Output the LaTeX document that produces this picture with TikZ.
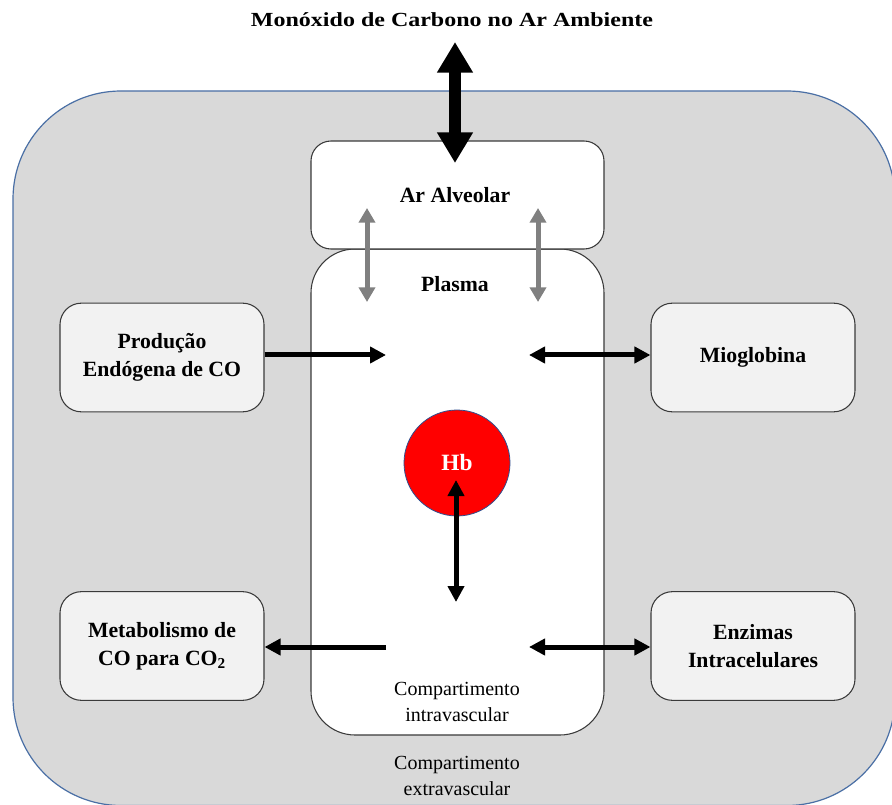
\documentclass[tikz,border=0pt]{standalone}
\usepackage{fontspec}
\setmainfont{Liberation Serif}
\newfontfamily\titlefont[FakeStretch=1.2]{Liberation Serif}
\usetikzlibrary{arrows.meta}
\definecolor{outerfill}{HTML}{D9D9D9}
\definecolor{outerline}{HTML}{4A6FA5}
\definecolor{sidefill}{HTML}{F2F2F2}
\definecolor{boxline}{HTML}{3A3A3A}
\definecolor{hbline}{HTML}{2F4F8F}
\definecolor{arrgray}{HTML}{808080}
\tikzset{
  txt/.style={font=\fontsize{16.3}{21}\selectfont\bfseries, align=center, inner sep=0pt},
  plain/.style={font=\fontsize{15}{19}\selectfont, align=center, inner sep=0pt},
  sidebox/.style={draw=boxline, line width=0.8pt, fill=sidefill, rounded corners=16pt,
     minimum width=153pt, minimum height=81.5pt, inner sep=0pt, align=center,
     font=\fontsize{16.3}{21}\selectfont\bfseries},
  whitebox/.style={draw=boxline, line width=0.8pt, fill=white, inner sep=0pt},
  blackarr/.style={draw=black, line width=3.75pt, -{Triangle[length=12pt,width=12pt]}},
  blackdbl/.style={draw=black, line width=3.75pt, {Triangle[length=12pt,width=12pt]}-{Triangle[length=12pt,width=12pt]}},
  graydbl/.style={draw=arrgray, line width=3.75pt, {Triangle[length=11pt,width=12pt]}-{Triangle[length=11pt,width=12pt]}},
  bigdbl/.style={draw=black, line width=9pt, {Triangle[length=23pt,width=25.5pt]}-{Triangle[length=23pt,width=25.5pt]}},
}
\begin{document}
\begin{tikzpicture}[x=0.75pt,y=-0.75pt]
\useasboundingbox (0,0) rectangle (892,805);
\clip (0,0) rectangle (892,805);
% outer compartment
\draw[fill=outerfill, draw=outerline, line width=0.9pt, rounded corners=81pt]
  (13,91) rectangle (895,805.5);
% title
\node[inner sep=0pt, font=\titlefont\fontsize{15}{18}\selectfont\bfseries] (title) at (452,20)
  {Monóxido de Carbono no Ar Ambiente};
% plasma and alveolar boxes
\node[whitebox, rounded corners=33pt, minimum width=219.75pt, minimum height=364.5pt]
  (plasma) at (457.5,492) {};
\node[whitebox, rounded corners=15pt, minimum width=219.75pt, minimum height=81pt]
  (alv) at (457.5,195) {};
\node[txt] (alvtxt) at (455,195) {Ar Alveolar};
\node[txt] (plasmatxt) at (455,284) {Plasma};
% side boxes
\node[sidebox] (prod) at (162,357.5) {Produção\\Endógena de CO};
\node[sidebox] (mio) at (753,357.5) {Mioglobina};
\node[sidebox] (meta) at (162,646) {Metabolismo de\\CO para CO\textsubscript{2}};
\node[sidebox] (enz) at (753,646) {Enzimas\\Intracelulares};
% Hb
\node[circle, fill=red, draw=hbline, line width=0.6pt, minimum size=79.5pt, inner sep=0pt,
  text=white, font=\fontsize{17.5}{20}\selectfont\bfseries] (hb) at (457,463) {Hb};
% texts
\node[plain] (intra) at (457,702) {Compartimento\\intravascular};
\node[plain] (extra) at (457,776) {Compartimento\\extravascular};
% coordinates
\coordinate (air) at (455,42);
\coordinate (alvtop) at (455,163);
\coordinate (g1a) at (367,208);
\coordinate (g1b) at (367,302);
\coordinate (g2a) at (538,208);
\coordinate (g2b) at (538,302);
\coordinate (pin) at (386,355);
\coordinate (pmio) at (529,355);
\coordinate (hbc) at (456,480);
\coordinate (hbd) at (456,602);
\coordinate (pmeta) at (386,647);
\coordinate (penz) at (529,647);
% connectors
\draw[bigdbl] (air) -- (alvtop);
\draw[graydbl] (g1a) -- (g1b);
\draw[graydbl] (g2a) -- (g2b);
\draw[blackarr] (prod.east |- pin) -- (pin);
\draw[blackdbl] (pmio) -- (mio.west |- pmio);
\draw[blackdbl] (hbc) -- (hbd);
\draw[blackarr] (pmeta) -- (meta.east |- pmeta);
\draw[blackdbl] (penz) -- (enz.west |- penz);
\end{tikzpicture}
\end{document}
